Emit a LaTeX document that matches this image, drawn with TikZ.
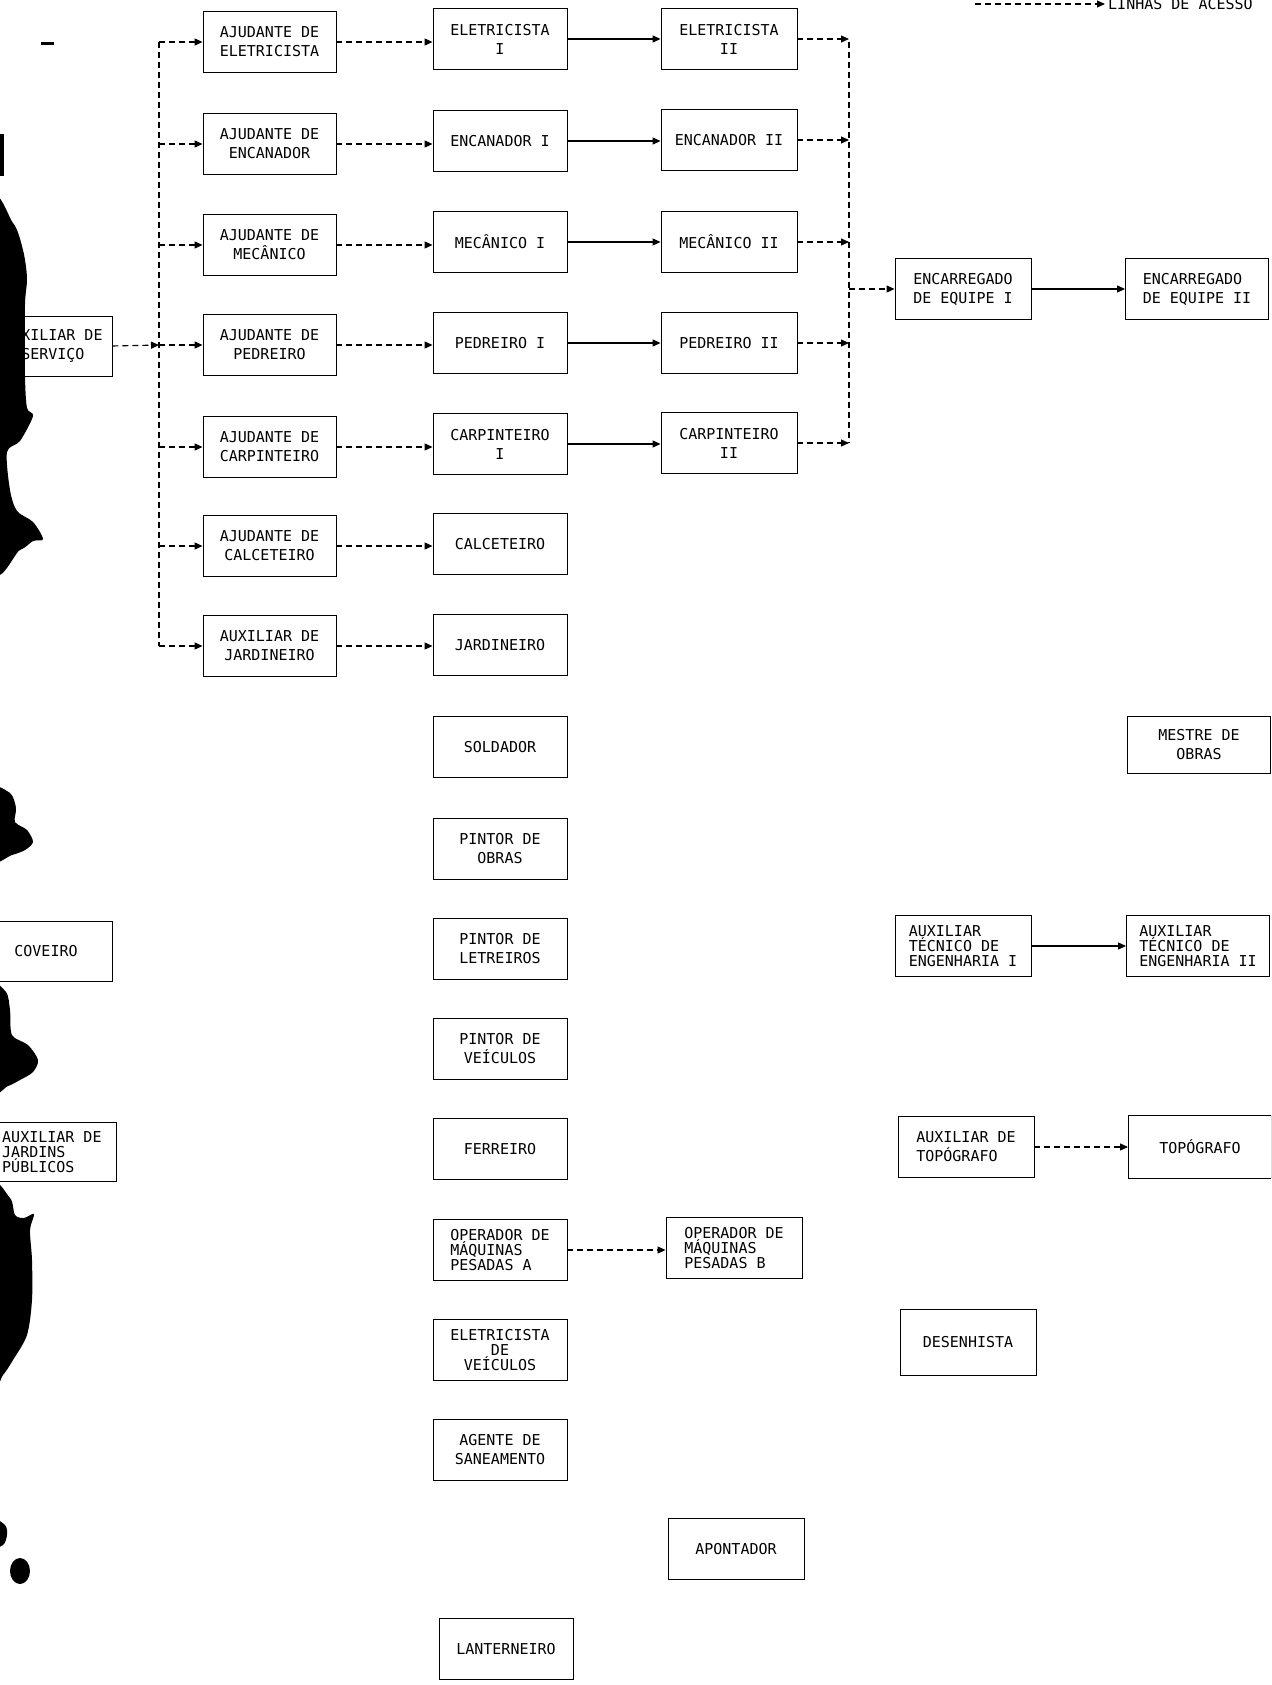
\documentclass[tikz,border=0pt]{standalone}
\usepackage{fontspec}
\newfontfamily\jobfont{DejaVu Sans Mono}
\usetikzlibrary{arrows.meta}
\tikzset{
  box/.style={draw, line width=0.9pt, rectangle, inner sep=0pt, minimum height=61pt,
    font=\jobfont\fontsize{15}{19}\selectfont, align=center},
  colA/.style={box, minimum width=133pt},
  colB/.style={box, minimum width=134pt},
  colC/.style={box, minimum width=136pt},
  colD/.style={box, minimum width=136pt},
  colE/.style={box, minimum width=143pt},
  tight/.style={font=\jobfont\fontsize{15}{15}\selectfont},
  dl/.style={line width=1.1pt, dash pattern=on 6pt off 4pt},
  dla/.style={dl, -{Triangle[length=8pt,width=7pt]}},
  sla/.style={line width=1.1pt, -{Triangle[length=8pt,width=7pt]}},
  blob/.style={fill=black, draw=none},
  boxtext/.style={font=\jobfont\fontsize{15}{19}\selectfont, inner sep=0pt, align=center},
}
\begin{document}
\begin{tikzpicture}[x=1pt, y=-1pt]
\useasboundingbox (0,0) rectangle (1271,1685);
\clip (0,0) rectangle (1271,1685);
\fill[white] (0,0) rectangle (1271,1685);

% legend
\coordinate (lg1) at (975,4);
\node[font=\jobfont\fontsize{15}{19}\selectfont, anchor=west, inner sep=0pt] (lg) at (1108,4) {LINHAS DE ACESSO};
\draw[dla] (lg1) -- ([xshift=-3pt]lg.west);

% column A
\node[colA] (a1) at (269.5,42)  {AJUDANTE DE\\ELETRICISTA};
\node[colA] (a2) at (269.5,144) {AJUDANTE DE\\ENCANADOR};
\node[colA] (a3) at (269.5,245) {AJUDANTE DE\\MECÂNICO};
\node[colA] (a4) at (269.5,345) {AJUDANTE DE\\PEDREIRO};
\node[colA] (a5) at (269.5,447) {AJUDANTE DE\\CARPINTEIRO};
\node[colA] (a6) at (269.5,546) {AJUDANTE DE\\CALCETEIRO};
\node[colA] (a7) at (269.5,646) {AUXILIAR DE\\JARDINEIRO};

% column B
\node[colB] (b1) at (500,39)   {ELETRICISTA\\I};
\node[colB] (b2) at (500,141)  {ENCANADOR I};
\node[colB] (b3) at (500,242)  {MECÂNICO I};
\node[colB] (b4) at (500,343)  {PEDREIRO I};
\node[colB] (b5) at (500,444)  {CARPINTEIRO\\I};
\node[colB] (b6) at (500,544)  {CALCETEIRO};
\node[colB] (b7) at (500,645)  {JARDINEIRO};
\node[colB] (b8) at (500,747)  {SOLDADOR};
\node[colB] (b9) at (500,849)  {PINTOR DE\\OBRAS};
\node[colB] (b10) at (500,949) {PINTOR DE\\LETREIROS};
\node[colB] (b11) at (500,1049) {PINTOR DE\\VEÍCULOS};
\node[colB] (b12) at (500,1149) {FERREIRO};
\node[colB, tight, align=left] (b13) at (500,1250) {OPERADOR DE\\MÁQUINAS\\PESADAS A};
\node[colB, tight] (b14) at (500,1350) {ELETRICISTA\\DE\\VEÍCULOS};
\node[colB] (b15) at (500,1450) {AGENTE DE\\SANEAMENTO};
\node[colB] (b16) at (506,1649) {LANTERNEIRO};

% column C
\node[colC] (c1) at (729,39)  {ELETRICISTA\\II};
\node[colC] (c2) at (729,140) {ENCANADOR II};
\node[colC] (c3) at (729,242) {MECÂNICO II};
\node[colC] (c4) at (729,343) {PEDREIRO II};
\node[colC] (c5) at (729,443) {CARPINTEIRO\\II};
\node[colC, tight, align=left] (c6) at (734,1248) {OPERADOR DE\\MÁQUINAS\\PESADAS B};
\node[colC] (c7) at (736,1549) {APONTADOR};

% column D
\node[colD] (d1) at (963,289) {ENCARREGADO\\DE EQUIPE I};
\node[colD, tight, align=left] (d2) at (963,946) {AUXILIAR\\TÉCNICO DE\\ENGENHARIA I};
\node[colD, align=left] (d3) at (966,1147) {AUXILIAR DE\\TOPÓGRAFO};
\node[colD, minimum height=66pt] (d4) at (968,1342) {DESENHISTA};

% column E
\node[colE, align=left] (e1) at (1197,289) {ENCARREGADO\\DE EQUIPE II};
\node[colE, minimum height=57pt] (e2) at (1199,745) {MESTRE DE\\OBRAS};
\node[colE, tight, align=left] (e3) at (1198,946) {AUXILIAR\\TÉCNICO DE\\ENGENHARIA II};
\node[colE, minimum height=63pt] (e4) at (1200,1147) {TOPÓGRAFO};

% left, partly cut
\node[box, minimum width=132pt, minimum height=60pt] (s0) at (46,346) {};
\node[boxtext, anchor=west] (s0t) at (3,346) {AUXILIAR DE\\SERVIÇO};
\node[box, minimum width=132pt, minimum height=60pt] (s1) at (46,951) {COVEIRO};
\node[box, tight, align=left, minimum width=134pt, minimum height=59pt] (s2) at (49,1152) {};
\node[boxtext, tight, align=left, anchor=west] (s2t) at (2,1152) {AUXILIAR DE\\JARDINS\\PÚBLICOS};

% left trunk
\coordinate (L1) at (159,42);
\coordinate (L2) at (159,144);
\coordinate (L3) at (159,245);
\coordinate (L4) at (159,345);
\coordinate (L5) at (159,447);
\coordinate (L6) at (159,546);
\coordinate (L7) at (159,646);
\draw[dl] (L1) -- (L7);
\foreach \k in {1,...,7} { \draw[dla] (L\k) -- (a\k.west); }
\draw[dla] (s0.east) -- (L4);

% ajudante -> level I
\foreach \k in {1,...,7} { \draw[dla] (a\k.east) -- (a\k.east -| b\k.west); }

% level I -> level II
\foreach \k in {1,...,5} { \draw[sla] (b\k.east) -- (b\k.east -| c\k.west); }

% right trunk
\coordinate (R1) at (849,42);
\coordinate (R5) at (849,443);
\coordinate (Rm) at (849,289);
\draw[dl] (R1) -- (R5);
\foreach \k in {1,...,5} { \draw[dla] (c\k.east) -- (c\k.east -| R1); }
\draw[dla] (Rm) -- (d1.west);
\draw[sla] (d1.east) -- (e1.west);

% other connectors
\draw[sla] (d2.east) -- (e3.west);
\draw[dla] (d3.east) -- (d3.east -| e4.west);
\draw[dla] (b13.east) -- (b13.east -| c6.west);

% ink blots and marks of the scan
\fill[blob] plot[smooth cycle] coordinates {(-10,215) (13,223) (23,250) (27,278) (25,305) (25,376) (27,408) (33,416) (20,441) (7,452) (10,490) (17,511) (33,522) (43,539) (33,541) (20,550) (-10,556)};
\fill[blob] plot[smooth cycle] coordinates {(-10,790) (10,793) (16,808) (15,822) (27,830) (33,842) (25,850) (12,855) (-10,860)};
\fill[blob] plot[smooth cycle] coordinates {(-10,988) (6,992) (10,1010) (12,1035) (28,1045) (38,1060) (33,1072) (20,1080) (8,1086) (-10,1090)};
\fill[blob] plot[smooth cycle] coordinates {(-10,1193) (10,1198) (15,1215) (24,1218) (34,1214) (30,1230) (32,1260) (32,1300) (27,1335) (13,1360) (3,1375) (-10,1386)};
\fill[blob] plot[smooth cycle] coordinates {(-10,1518) (5,1525) (7,1535) (3,1545) (-10,1547)};
\fill[blob] (20,1571) ellipse [x radius=10, y radius=13];
\fill[blob] (0,134) rectangle (4,176);
\fill[blob] (41,42) rectangle (54,45);
\end{tikzpicture}
\end{document}
